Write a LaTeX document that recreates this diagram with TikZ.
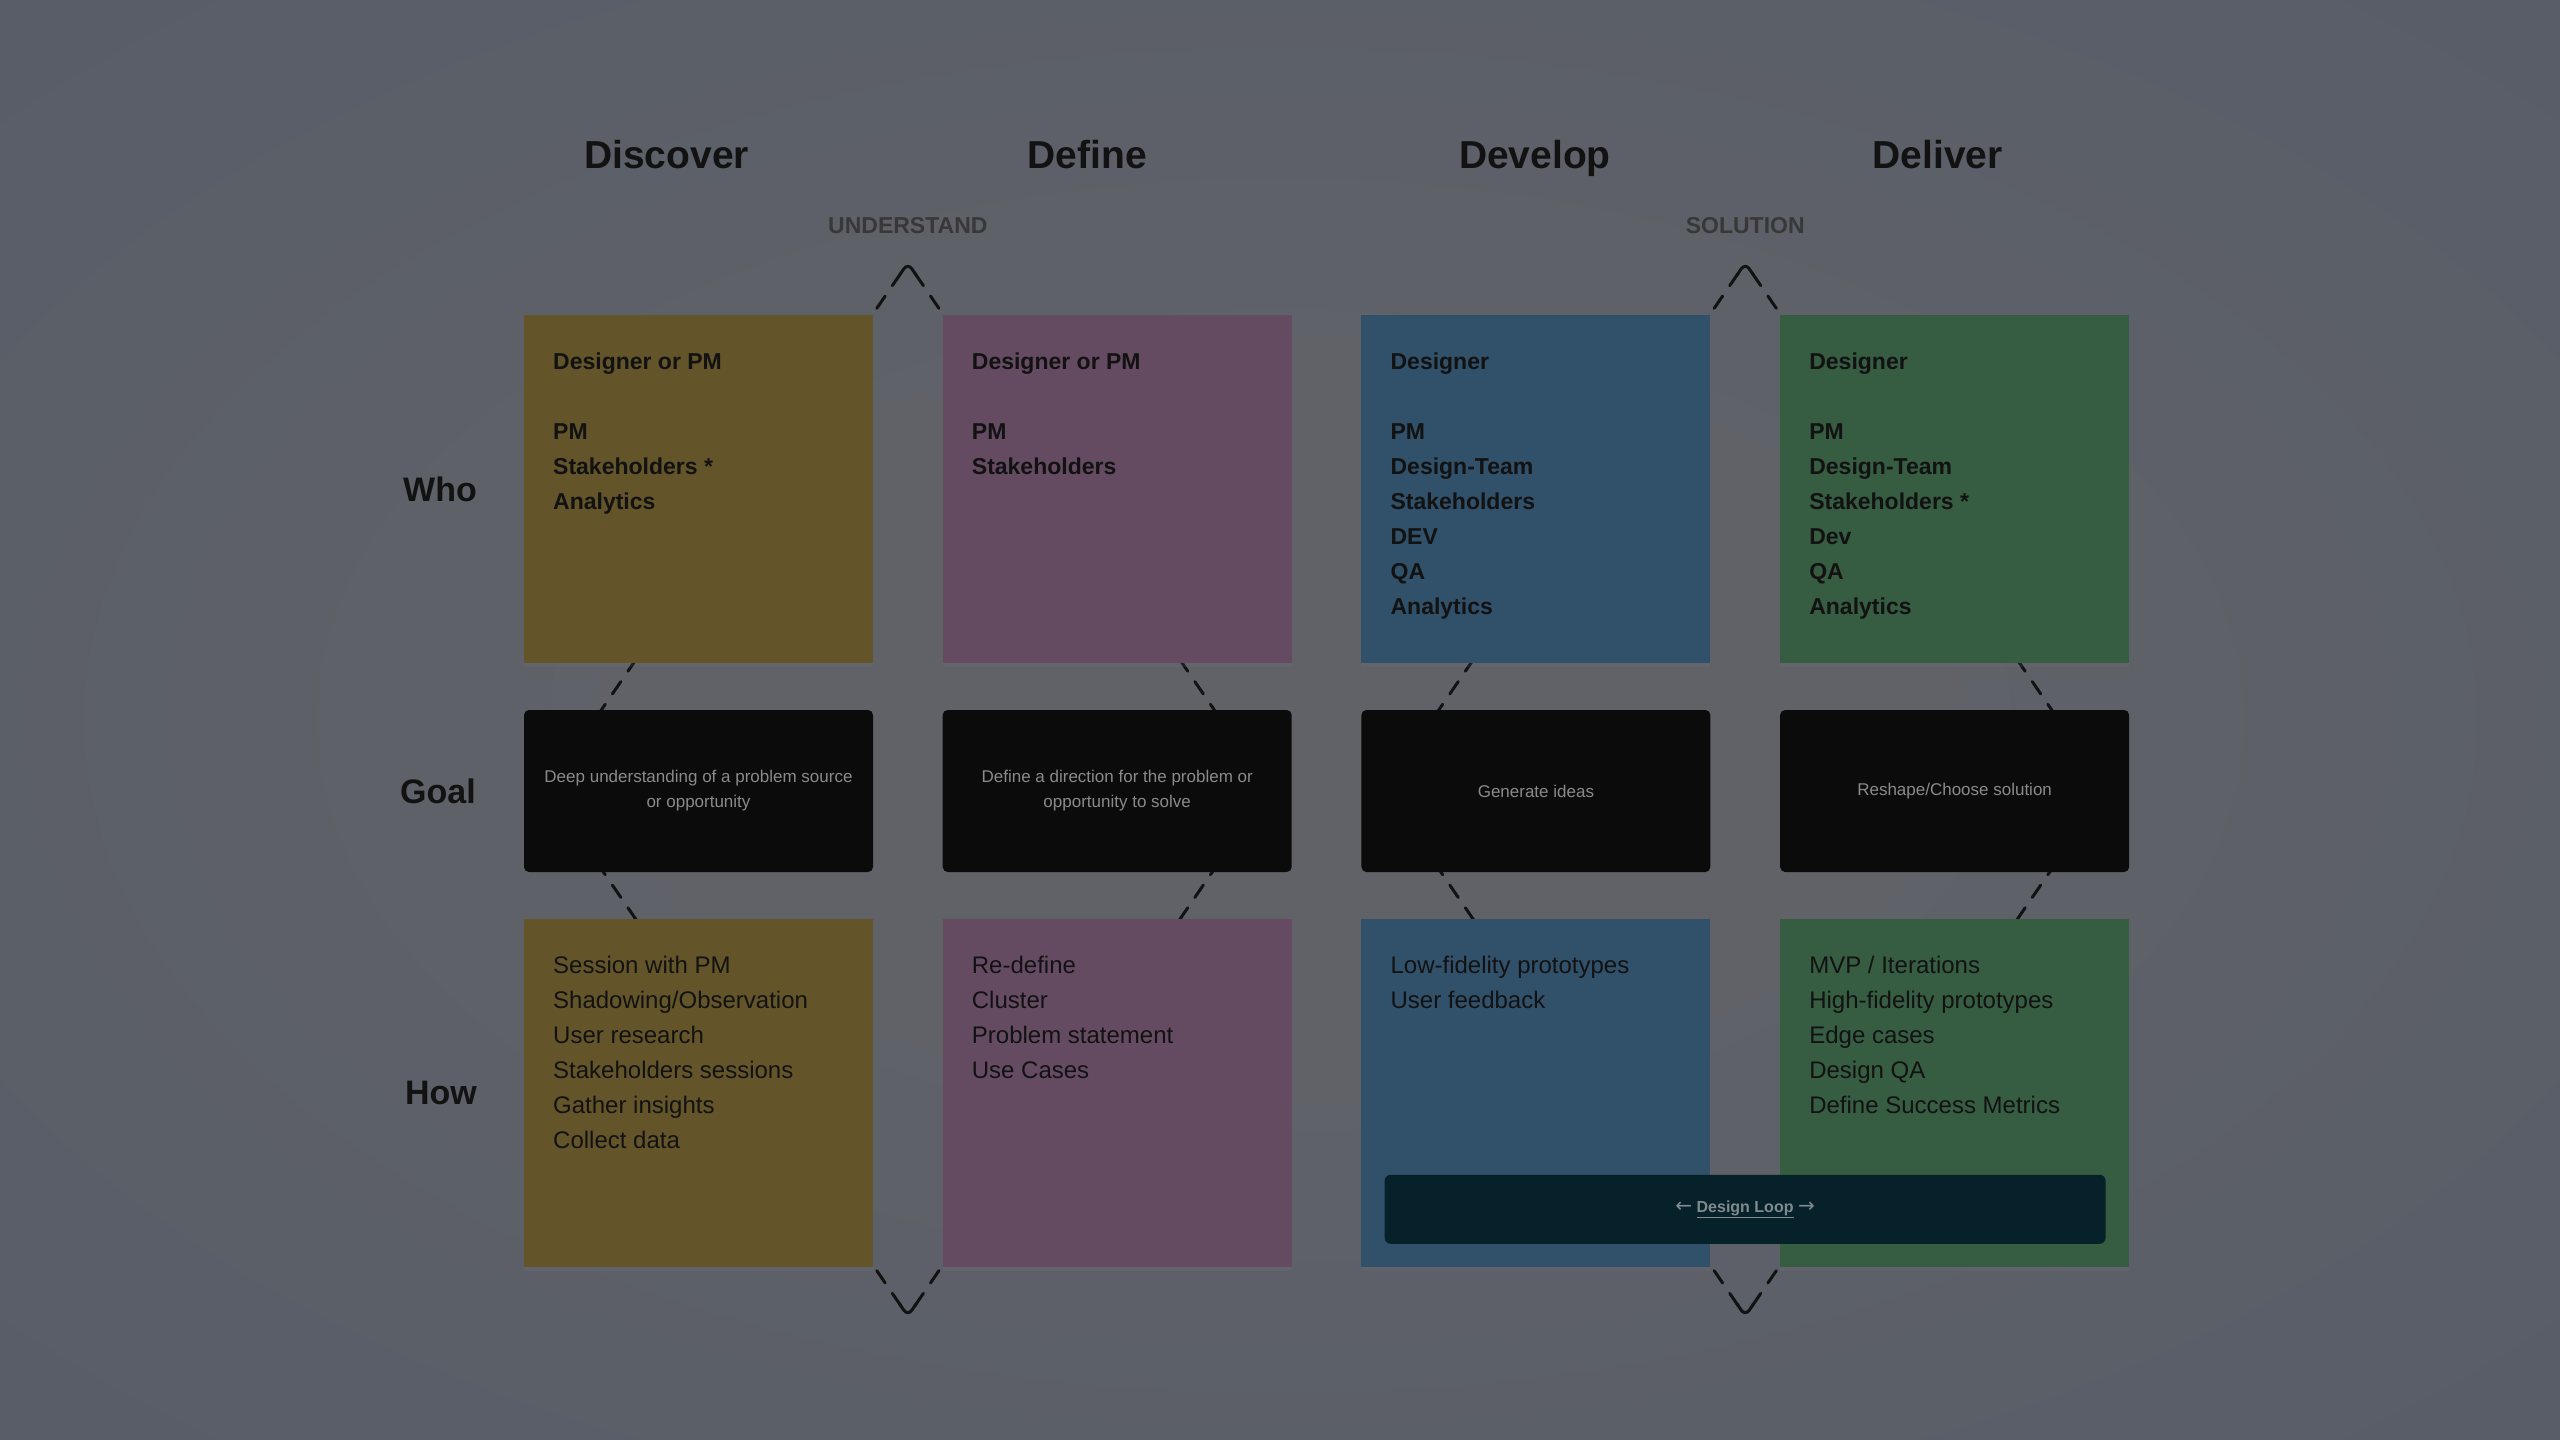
\documentclass[tikz,border=0pt]{standalone}
\usepackage{fontspec}
\setmainfont{Liberation Sans}
\newfontfamily\arrowfont{DejaVu Sans}
\usetikzlibrary{positioning, calc, backgrounds, shadows}
\definecolor{bgInner}{HTML}{606268}
\definecolor{bgOuter}{HTML}{4E5767}
\definecolor{phaseDiscover}{HTML}{635429}
\definecolor{phaseDefine}{HTML}{654B62}
\definecolor{phaseDevelop}{HTML}{31506A}
\definecolor{phaseDeliver}{HTML}{365C42}
\definecolor{goalFill}{HTML}{0B0B0B}
\definecolor{goalInk}{HTML}{8A8A8A}
\definecolor{loopFill}{HTML}{07212A}
\definecolor{loopInk}{HTML}{7F8B8E}
\definecolor{ink}{HTML}{121212}
\definecolor{inkSoft}{HTML}{383838}
\pgfdeclareradialshading{bgglow}{\pgfpoint{0bp}{0bp}}{color(0bp)=(bgInner);
  color(12bp)=(bgInner); color(62bp)=(bgOuter); color(72bp)=(bgOuter)}

\begin{document}
\begin{tikzpicture}[
    x=1pt, y=1pt,
    node distance=47pt and 69.7pt,
    card/.style={minimum width=349pt, minimum height=348pt, inner sep=0pt,
                 outer sep=0pt, drop shadow={shadow xshift=0pt,
                 shadow yshift=-4pt, opacity=0.12}},
    goal/.style={fill=goalFill, rounded corners=5pt, minimum width=349pt,
                 minimum height=162pt, inner sep=0pt, outer sep=0pt,
                 text=goalInk, align=center,
                 font=\fontsize{17}{25}\selectfont},
    who/.style={inner sep=0pt, align=left, text=ink,
                font=\fontsize{23}{35}\selectfont\bfseries},
    how/.style={inner sep=0pt, align=left, text=ink,
                font=\fontsize{24}{35}\selectfont},
    phase/.style={inner sep=0pt, text=ink,
                  font=\fontsize{39}{45}\selectfont\bfseries},
    stage/.style={inner sep=0pt, text=inkSoft,
                  font=\fontsize{23}{27}\selectfont\bfseries},
    rowlabel/.style={inner sep=0pt, text=ink,
                     font=\fontsize{34}{40}\selectfont\bfseries},
    loopbar/.style={fill=loopFill, rounded corners=6pt, minimum width=721pt,
                    minimum height=69pt, inner sep=0pt, text=loopInk,
                    font=\fontsize{16}{20}\selectfont\bfseries},
    loopline/.style={draw=ink, line width=3pt, line cap=round,
                     dash pattern=on 15pt off 12.5pt, dash phase=15pt},
    looptip/.style={draw=ink, line width=3pt, line cap=round,
                    rounded corners=7pt},
]
\useasboundingbox (0,0) rectangle (2560,-1440);

% ── Who row ──
\node[card, fill=phaseDiscover, anchor=north west] (discWho) at (524,-315) {};
\node[card, fill=phaseDefine, right=of discWho] (defWho) {};
\node[card, fill=phaseDevelop, right=of defWho] (devWho) {};
\node[card, fill=phaseDeliver, right=of devWho] (delWho) {};

% ── Goal row ──
\node[goal, below=of discWho]
    (discGoal) {Deep understanding of a problem source\\or opportunity};
\node[goal, below=of defWho]
    (defGoal) {Define a direction for the problem or\\opportunity to solve};
\node[goal, below=of devWho] (devGoal) {Generate ideas};
\node[goal, below=of delWho] (delGoal) {Reshape/Choose solution};

% ── How row ──
\node[card, fill=phaseDiscover, below=of discGoal] (discHow) {};
\node[card, fill=phaseDefine, below=of defGoal] (defHow) {};
\node[card, fill=phaseDevelop, below=of devGoal] (devHow) {};
\node[card, fill=phaseDeliver, below=of delGoal] (delHow) {};

% ── Card texts ──
\node[who, below=38pt of discWho.north west, anchor=north west, xshift=29pt]
    (discWhoTxt) {Designer or PM\\[35pt]PM\\Stakeholders *\\Analytics};
\node[who, below=38pt of defWho.north west, anchor=north west, xshift=29pt]
    (defWhoTxt) {Designer or PM\\[35pt]PM\\Stakeholders};
\node[who, below=38pt of devWho.north west, anchor=north west, xshift=29pt]
    (devWhoTxt) {Designer\\[35pt]PM\\Design-Team\\Stakeholders\\DEV\\QA\\Analytics};
\node[who, below=38pt of delWho.north west, anchor=north west, xshift=29pt]
    (delWhoTxt) {Designer\\[35pt]PM\\Design-Team\\Stakeholders *\\Dev\\QA\\Analytics};

\node[how, below=37pt of discHow.north west, anchor=north west, xshift=29pt]
    (discHowTxt) {Session with PM\\Shadowing/Observation\\User research\\
                  Stakeholders sessions\\Gather insights\\Collect data};
\node[how, below=37pt of defHow.north west, anchor=north west, xshift=29pt]
    (defHowTxt) {Re-define\\Cluster\\Problem statement\\Use Cases};
\node[how, below=37pt of devHow.north west, anchor=north west, xshift=29pt]
    (devHowTxt) {Low-fidelity prototypes\\User feedback};
\node[how, below=37pt of delHow.north west, anchor=north west, xshift=29pt]
    (delHowTxt) {MVP / Iterations\\High-fidelity prototypes\\Edge cases\\
                 Design QA\\Define Success Metrics};

% ── Design loop ──
\node[loopbar, above right=23pt and 23pt of devHow.south west]
    (loop) {{\arrowfont\mdseries\fontsize{20}{20}\selectfont ←}
            \underline{Design Loop}
            {\arrowfont\mdseries\fontsize{20}{20}\selectfont →}};

% ── Headers and row labels ──
\node[phase, above=147pt of discWho.north, anchor=base, xshift=-32pt]
    (discover) {Discover};
\node[phase, above=147pt of defWho.north, anchor=base, xshift=-30pt]
    (define) {Define};
\node[phase, above=147pt of devWho.north, anchor=base, xshift=-1pt]
    (develop) {Develop};
\node[phase, above=147pt of delWho.north, anchor=base, xshift=-17pt]
    (deliver) {Deliver};

\node[rowlabel, left=47pt of discWho] (who) {Who};
\node[rowlabel, left=48pt of discGoal] (goalLabel) {Goal};
\node[rowlabel, left=47pt of discHow] (how) {How};

% ── Diamonds ──
\coordinate (undTop) at ($(discWho.north east)!0.5!(defWho.north west) + (0,52)$);
\coordinate (undBot) at ($(discHow.south east)!0.5!(defHow.south west) + (0,-49)$);
\coordinate (undLeft) at ($(undTop)!0.5!(undBot) + (-361,0)$);
\coordinate (undRight) at ($(undTop)!0.5!(undBot) + (361,0)$);
\coordinate (solTop) at ($(devWho.north east)!0.5!(delWho.north west) + (0,52)$);
\coordinate (solBot) at ($(devHow.south east)!0.5!(delHow.south west) + (0,-49)$);
\coordinate (solLeft) at ($(solTop)!0.5!(solBot) + (-361,0)$);
\coordinate (solRight) at ($(solTop)!0.5!(solBot) + (361,0)$);

\node[stage, above=30pt of undTop, anchor=base] (understand) {UNDERSTAND};
\node[stage, above=30pt of solTop, anchor=base] (solution) {SOLUTION};

\begin{scope}[on background layer]
  \shade[shading=bgglow] (0,0) rectangle (2560,-1440);
  \foreach \d in {und, sol} {
    \foreach \v in {Top, Bot} {
      \draw[loopline] (\d\v) -- (\d Left);
      \draw[loopline] (\d\v) -- (\d Right);
      \draw[looptip] ($(\d\v)!15pt!(\d Left)$) -- (\d\v)
                     -- ($(\d\v)!15pt!(\d Right)$);
    }
  }
\end{scope}
\end{tikzpicture}
\end{document}
